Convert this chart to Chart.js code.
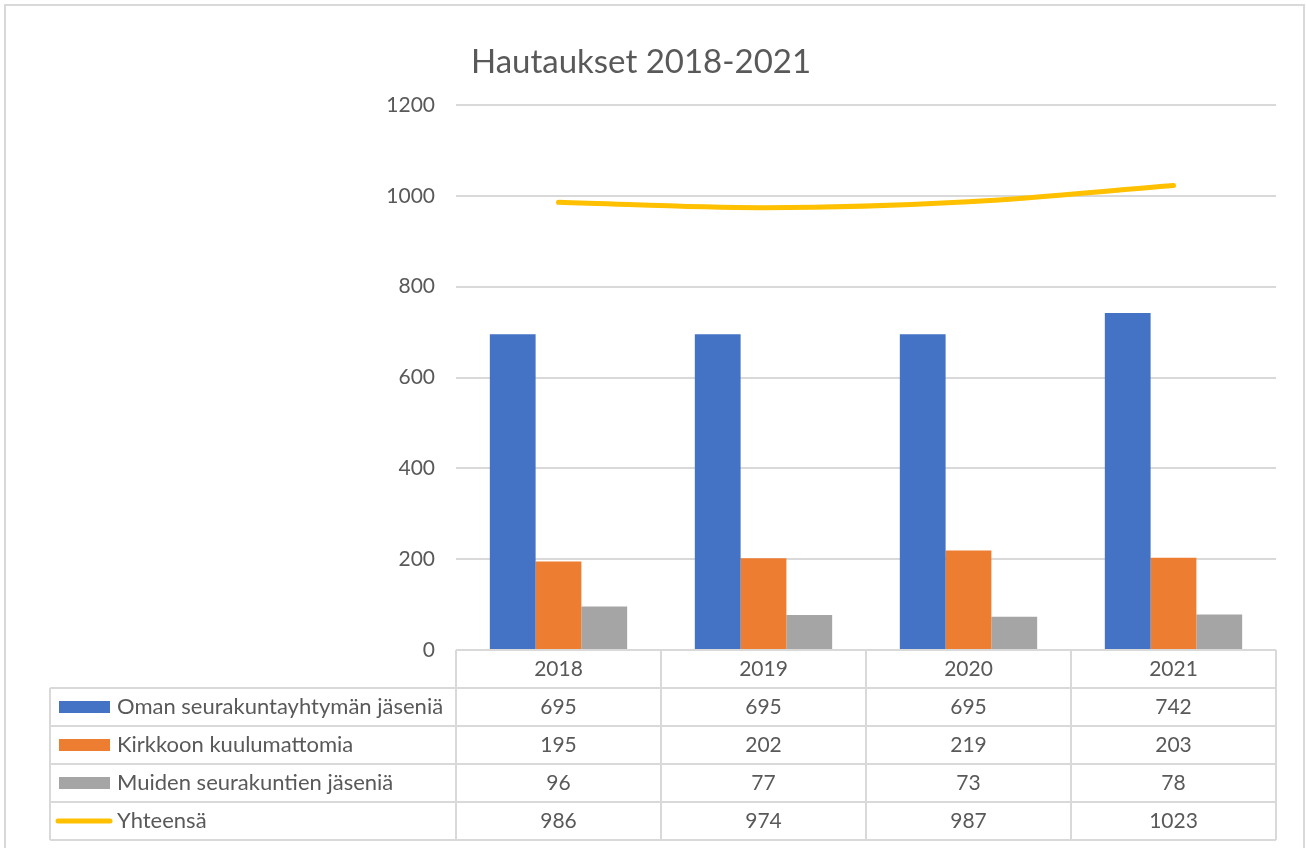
<!DOCTYPE html>
<html>
<head>
<meta charset="utf-8">
<script src="https://cdn.jsdelivr.net/npm/chart.js@4"></script>
<style>
  body { margin: 0; background: #fff; }
  #wrap { width: 1306px; height: 848px; }
</style>
</head>
<body>
<div id="wrap"><canvas id="chart" width="1306" height="848"></canvas></div>
<script>
const years = ["2018", "2019", "2020", "2021"];
const omat = [695, 695, 695, 742];
const kirkkoon = [195, 202, 219, 203];
const muut = [96, 77, 73, 78];
const yhteensa = [986, 974, 987, 1023];
const yTicks = [0, 200, 400, 600, 800, 1000, 1200];

const FONT = "Lato, 'Noto Sans', sans-serif";
const TEXT = "#595959";
const GRID = "#d9d9d9";

const series = [
    { label: "Oman seurakuntayhtymän jäseniä", data: omat, color: "#4472C4", kind: "bar" },
    { label: "Kirkkoon kuulumattomia", data: kirkkoon, color: "#ED7D31", kind: "bar" },
    { label: "Muiden seurakuntien jäseniä", data: muut, color: "#A5A5A5", kind: "bar" },
    { label: "Yhteensä", data: yhteensa, color: "#FFC000", kind: "line" }
];

// draws frame, title and the data table under the plot
const dataTablePlugin = {
    id: "dataTable",
    beforeDraw(chart) {
        const { ctx, width, height } = chart;
        ctx.save();
        ctx.fillStyle = "#fff";
        ctx.fillRect(0, 0, width, height);
        ctx.restore();
    },
    afterDraw(chart) {
        const { ctx, chartArea } = chart;
        const xs = chart.scales.x;
        const left = chartArea.left, right = chartArea.right;
        const top = chartArea.bottom;
        const rowH = 38;
        const legendLeft = 50;
        const nRows = series.length + 1;
        const bottom = top + rowH * nRows;

        ctx.save();
        // outer frame
        ctx.strokeStyle = GRID;
        ctx.lineWidth = 2;
        ctx.strokeRect(5, 5, 1299, 860);

        // title
        ctx.fillStyle = TEXT;
        ctx.font = "33px " + FONT;
        ctx.textAlign = "center";
        ctx.textBaseline = "middle";
        ctx.fillText("Hautaukset 2018-2021", 641, 62);

        // grid of the table
        ctx.strokeStyle = GRID;
        ctx.lineWidth = 2;
        ctx.beginPath();
        ctx.moveTo(left, top);
        ctx.lineTo(right, top);
        for (let r = 1; r <= nRows; r++) {
            ctx.moveTo(legendLeft, top + r * rowH);
            ctx.lineTo(right, top + r * rowH);
        }
        const step = (right - left) / years.length;
        for (let c = 0; c <= years.length; c++) {
            const x = left + c * step;
            ctx.moveTo(x, top);
            ctx.lineTo(x, bottom);
        }
        ctx.moveTo(legendLeft, top + rowH);
        ctx.lineTo(legendLeft, bottom);
        ctx.stroke();

        // header
        ctx.font = "21px " + FONT;
        ctx.fillStyle = TEXT;
        ctx.textAlign = "center";
        years.forEach((y, i) => {
            ctx.fillText(y, xs.getPixelForValue(i), top + rowH / 2);
        });

        // rows
        series.forEach((s, r) => {
            const cy = top + rowH * (r + 1) + rowH / 2;
            if (s.kind === "bar") {
                ctx.fillStyle = s.color;
                ctx.fillRect(59, cy - 6, 51, 12);
            } else {
                ctx.strokeStyle = s.color;
                ctx.lineWidth = 5;
                ctx.lineCap = "round";
                ctx.beginPath();
                ctx.moveTo(58, cy);
                ctx.lineTo(110, cy);
                ctx.stroke();
            }
            ctx.fillStyle = TEXT;
            ctx.textAlign = "left";
            ctx.font = "22px " + FONT;
            ctx.fillText(s.label, 117, cy);
            ctx.textAlign = "center";
            ctx.font = "21px " + FONT;
            s.data.forEach((v, i) => {
                ctx.fillText(String(v), xs.getPixelForValue(i), cy);
            });
        });
        ctx.restore();
    }
};

const datasets = series.map(s => s.kind === "bar"
    ? {
        type: "bar",
        label: s.label,
        data: s.data,
        backgroundColor: s.color,
        categoryPercentage: 0.67,
        barPercentage: 1,
        order: 1
    }
    : {
        type: "line",
        label: s.label,
        data: s.data,
        borderColor: s.color,
        borderWidth: 5,
        borderCapStyle: "round",
        tension: 0.35,
        pointRadius: 0,
        fill: false,
        order: 0
    });

new Chart(document.getElementById("chart").getContext("2d"), {
    type: "bar",
    data: { labels: years, datasets },
    options: {
        responsive: false,
        animation: false,
        layout: { padding: { left: 0, right: 30, top: 105, bottom: 198 } },
        plugins: {
            legend: { display: false },
            title: { display: false },
            tooltip: { enabled: false }
        },
        scales: {
            x: { display: false },
            y: {
                min: 0,
                max: 1200,
                afterFit: s => { s.width = 456; },
                afterBuildTicks: s => { s.ticks = yTicks.map(v => ({ value: v })); },
                ticks: {
                    color: TEXT,
                    padding: 21,
                    font: { family: FONT, size: 21 },
                    callback: v => String(v)
                },
                grid: { color: GRID, lineWidth: 2, drawTicks: false },
                border: { display: false }
            }
        }
    },
    plugins: [dataTablePlugin]
});
</script>
</body>
</html>
